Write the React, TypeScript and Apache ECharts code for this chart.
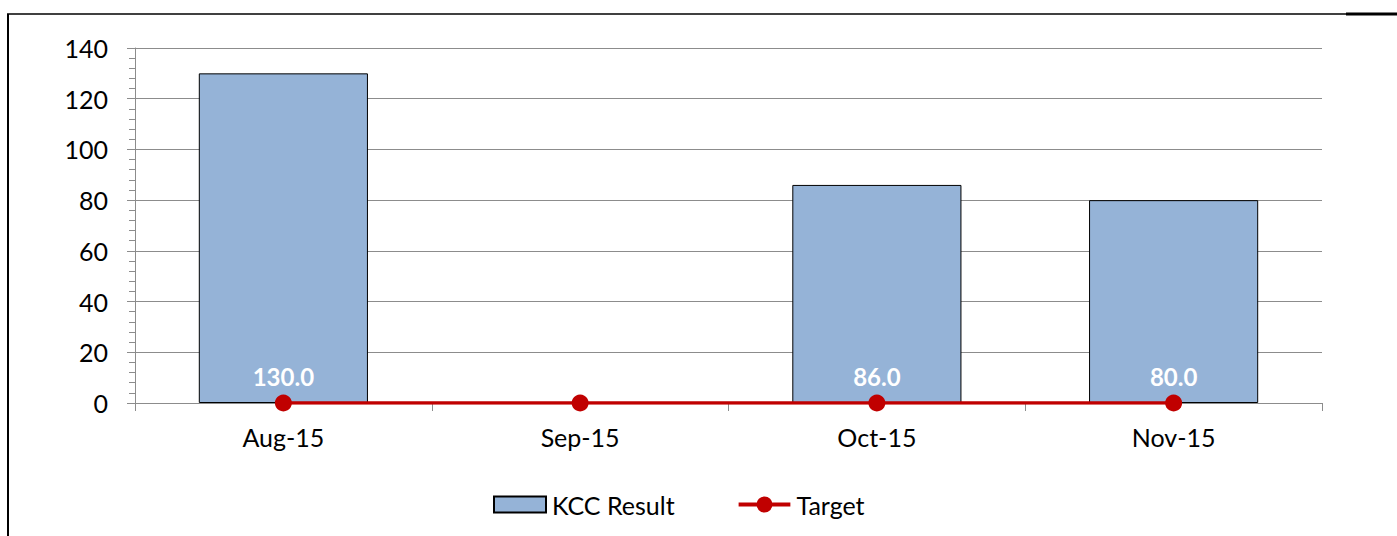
import React, { useEffect, useRef } from "react";
import * as echarts from "echarts";

const categories = ["Aug-15", "Sep-15", "Oct-15", "Nov-15"];
const kccResult: (number | null)[] = [130, null, 86, 80];
const target = [0, 0, 0, 0];
const yTicks = { min: 0, max: 140, interval: 20 };

const lineMarkerIcon =
  "path://M0 6 H55 V10 H0 Z M19 8 A8.5 8.5 0 1 1 36 8 A8.5 8.5 0 1 1 19 8 Z";

export default function App() {
  const ref = useRef<HTMLDivElement>(null);
  useEffect(() => {
    document.body.style.margin = "0";
    const chart = echarts.init(ref.current!, null, { renderer: "svg" });
    const font = "Lato, 'Open Sans', sans-serif";
    chart.setOption({
      animation: false,
      backgroundColor: "#ffffff",
      textStyle: { fontFamily: font },
      grid: { left: 135, right: 75, top: 48, bottom: 133, containLabel: false },
      legend: {
        left: 493,
        top: 492,
        padding: 0,
        itemWidth: 52,
        itemHeight: 16,
        itemGap: 64,
        textStyle: { fontSize: 25, color: "#000", fontFamily: font, padding: [0, 0, 0, 1] },
        data: [
          { name: "KCC Result", icon: "rect" },
          { name: "Target", icon: lineMarkerIcon, itemStyle: { color: "#c00000", borderWidth: 0 } },
        ],
      },
      xAxis: {
        type: "category",
        data: categories,
        boundaryGap: true,
        axisLine: { lineStyle: { color: "#8c8c8c", width: 1 } },
        axisTick: { show: true, length: 8, lineStyle: { color: "#8c8c8c" } },
        axisLabel: { fontSize: 25, color: "#000", margin: 21, fontFamily: font },
      },
      yAxis: {
        type: "value",
        min: yTicks.min,
        max: yTicks.max,
        interval: yTicks.interval,
        axisLine: { show: true, lineStyle: { color: "#8c8c8c", width: 1 } },
        axisTick: { show: true, length: 8, lineStyle: { color: "#8c8c8c" } },
        minorTick: { show: true, splitNumber: 5, length: 6, lineStyle: { color: "#8c8c8c" } },
        splitLine: { lineStyle: { color: "#8c8c8c", width: 1 } },
        axisLabel: { fontSize: 25, color: "#000", margin: 27, fontFamily: font },
      },
      series: [
        {
          name: "KCC Result",
          type: "bar",
          data: kccResult,
          barWidth: "57%",
          itemStyle: { color: "#95b3d7", borderColor: "#000", borderWidth: 1 },
          label: {
            show: true,
            position: "insideBottom",
            distance: 15,
            color: "#fff",
            fontWeight: "bold",
            fontSize: 24,
            fontFamily: font,
            formatter: (p: any) => (p.value == null ? "" : Number(p.value).toFixed(1)),
          },
          z: 2,
        },
        {
          name: "Target",
          type: "line",
          data: target,
          symbol: "circle",
          symbolSize: 17,
          lineStyle: { color: "#c00000", width: 3.5 },
          itemStyle: { color: "#c00000" },
          z: 5,
        },
      ],
      graphic: [
        { type: "line", shape: { x1: 8, y1: 14, x2: 8, y2: 536 }, style: { stroke: "#000", lineWidth: 2 } },
        { type: "line", shape: { x1: 7, y1: 14, x2: 1346, y2: 14 }, style: { stroke: "#000", lineWidth: 1.5 } },
        { type: "line", shape: { x1: 1346, y1: 14, x2: 1397, y2: 14 }, style: { stroke: "#000", lineWidth: 3 } },
      ],
    });
    return () => chart.dispose();
  }, []);
  return (
    <div
      ref={ref}
      style={{ position: "absolute", left: 0, top: 0, width: 1397, height: 536 }}
    />
  );
}
